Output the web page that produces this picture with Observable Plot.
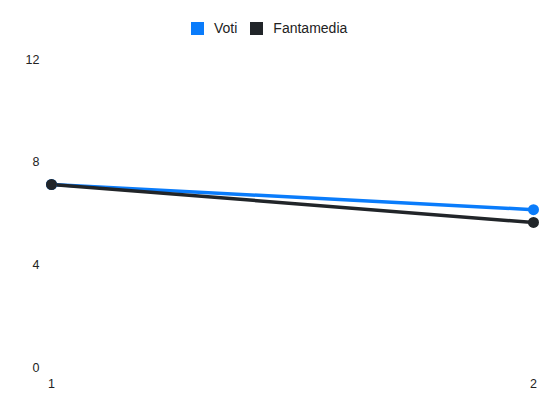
<!DOCTYPE html>
<html>
<head>
<meta charset="utf-8">
<script src="https://cdn.jsdelivr.net/npm/d3@7"></script>
<script src="https://cdn.jsdelivr.net/npm/@observablehq/plot@0.6"></script>
<style>
  body { margin: 0; background: #fff; font-family: "Liberation Sans", Arial, sans-serif; }
  #wrap { position: relative; width: 550px; height: 412px; }
  #legend { position: absolute; top: 19px; left: 191px; display: flex; font-size: 14px; line-height: 19px; color: #222; z-index: 2; }
  .item { display: flex; align-items: center; margin-right: 13px; }
  .sw { width: 13px; height: 13px; margin-right: 10px; }
</style>
</head>
<body>
<div id="wrap"><div id="legend"></div></div>
<script>
const giornate = [1, 2];
const voti = [7.13, 6.15];
const fantamedia = [7.13, 5.65];
const seriesNames = ["Voti", "Fantamedia"];
const seriesColors = ["#0a7cfb", "#212529"];
const yTicks = [0, 4, 8, 12];

const data = [];
giornate.forEach((g, i) => {
  data.push({ g, v: voti[i], s: seriesNames[0] });
});
giornate.forEach((g, i) => {
  data.push({ g, v: fantamedia[i], s: seriesNames[1] });
});

const color = { domain: seriesNames, range: seriesColors };

const chart = Plot.plot({
  width: 550,
  height: 412,
  marginTop: 59,
  marginBottom: 45,
  marginLeft: 51,
  marginRight: 17,
  style: { fontFamily: "Liberation Sans, Arial, sans-serif", fontSize: "12.5px", color: "#222", background: "transparent" },
  x: { domain: [1, 2], ticks: giornate, tickFormat: d => String(d), tickSize: 0, tickPadding: 12, label: null },
  y: { domain: [0, 12], ticks: yTicks, tickSize: 0, tickPadding: 12, label: null },
  color,
  marks: [
    Plot.line(data, { x: "g", y: "v", z: "s", stroke: "s", strokeWidth: 3.5 }),
    Plot.dot(data, { x: "g", y: "v", fill: "s", r: 5.5 })
  ]
});
chart.style.position = "absolute";
chart.style.top = "0";
chart.style.left = "0";
document.getElementById("wrap").appendChild(chart);

const legend = document.getElementById("legend");
seriesNames.forEach((n, i) => {
  const it = document.createElement("div");
  it.className = "item";
  const sw = document.createElement("div");
  sw.className = "sw";
  sw.style.background = seriesColors[i];
  const t = document.createElement("span");
  t.textContent = n;
  it.appendChild(sw);
  it.appendChild(t);
  legend.appendChild(it);
});
</script>
</body>
</html>
